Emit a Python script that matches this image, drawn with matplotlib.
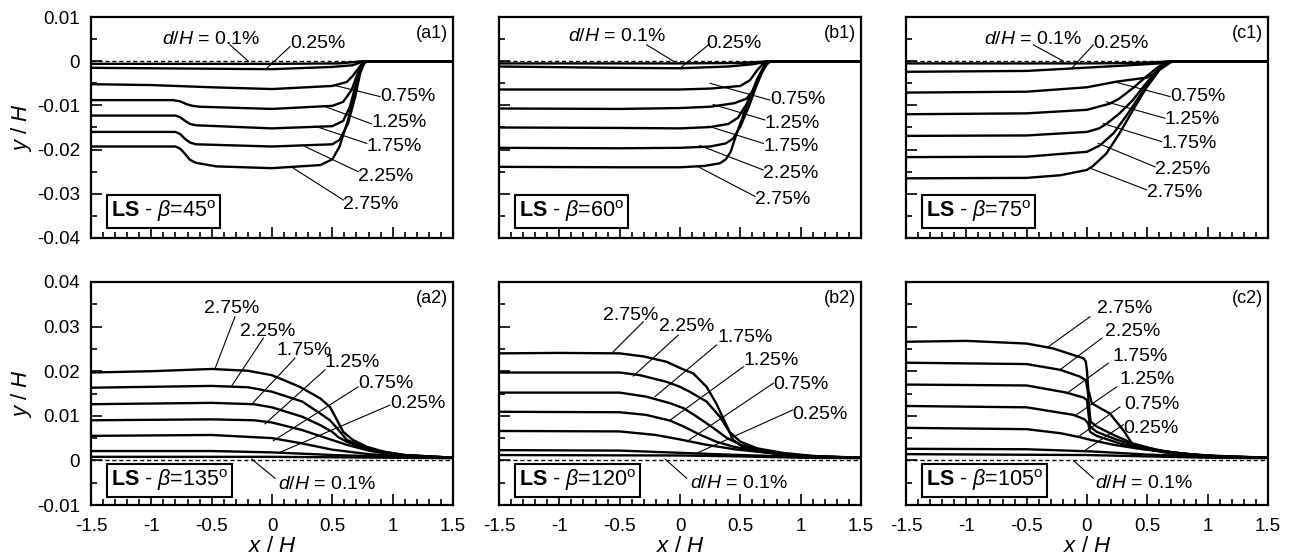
import matplotlib
matplotlib.use('Agg')
import matplotlib.pyplot as plt
from matplotlib.ticker import MultipleLocator, FuncFormatter

plt.rcParams['font.family'] = ['Liberation Sans', 'DejaVu Sans']
plt.rcParams['mathtext.fontset'] = 'custom'
plt.rcParams['mathtext.rm'] = 'Liberation Sans'
plt.rcParams['mathtext.it'] = 'Liberation Sans:italic'
plt.rcParams['mathtext.bf'] = 'Liberation Sans:bold'
plt.rcParams['axes.unicode_minus'] = False

# ---- data: label -> (x/H, y/H) ----
a1_curves = {
    "0.1%": ([-1.5, 0.0, 0.55, 0.68, 0.75, 1.5], [-0.0006, -0.0006, -0.0005, -0.0002, 0, 0]),
    "0.25%": ([-1.5, -0.5, 0.0, 0.5, 0.67, 0.72, 0.75, 1.5], [-0.0015, -0.0017, -0.0018, -0.0013, -0.0009, -0.0004, 0, 0]),
    "0.75%": ([-1.5, -1.0, -0.5, 0.0, 0.5, 0.62, 0.67, 0.72, 0.76, 1.5],
              [-0.0052, -0.0054, -0.0059, -0.0063, -0.0056, -0.0047, -0.0033, -0.0015, 0, 0]),
    "1.25%": ([-1.5, -0.82, -0.76, -0.71, -0.66, -0.6, 0.0, 0.5, 0.59, 0.66, 0.70, 0.74, 0.77, 1.5],
              [-0.0088, -0.0088, -0.0091, -0.0097, -0.0101, -0.0103, -0.0108, -0.0101, -0.0092, -0.0065, -0.0035, -0.0008, 0, 0]),
    "1.75%": ([-1.5, -0.8, -0.76, -0.72, -0.68, -0.63, 0.0, 0.5, 0.59, 0.645, 0.69, 0.73, 0.77, 1.5],
              [-0.0123, -0.0123, -0.0127, -0.0135, -0.0142, -0.0145, -0.0152, -0.0147, -0.0135, -0.0103, -0.0058, -0.0016, 0, 0]),
    "2.25%": ([-1.5, -0.8, -0.76, -0.72, -0.68, -0.63, 0.0, 0.5, 0.56, 0.63, 0.69, 0.73, 0.77, 1.5],
              [-0.0160, -0.0160, -0.0165, -0.0176, -0.0184, -0.0188, -0.0193, -0.0188, -0.0178, -0.0141, -0.0080, -0.0028, 0, 0]),
    "2.75%": ([-1.5, -0.8, -0.76, -0.72, -0.68, -0.63, -0.46, 0.0, 0.4, 0.5, 0.56, 0.63, 0.69, 0.74, 0.785, 1.5],
              [-0.0193, -0.0193, -0.0198, -0.0210, -0.0223, -0.0230, -0.0238, -0.0242, -0.0235, -0.0222, -0.0193, -0.0133, -0.0065, -0.0012, 0, 0]),
}
b1_curves = {
    "0.1%": ([-1.5, 0.0, 0.5, 0.65, 0.72, 1.5], [-0.0005, -0.0005, -0.0004, -0.0002, 0, 0]),
    "0.25%": ([-1.5, -0.5, 0.0, 0.4, 0.6, 0.68, 0.73, 1.5], [-0.0012, -0.0015, -0.0016, -0.0012, -0.0007, -0.0003, 0, 0]),
    "0.75%": ([-1.5, -0.5, 0.0, 0.25, 0.5, 0.58, 0.635, 0.68, 0.72, 1.5],
              [-0.0064, -0.0064, -0.0064, -0.0062, -0.0056, -0.0043, -0.0022, -0.0008, 0, 0]),
    "1.25%": ([-1.5, -0.5, 0.0, 0.25, 0.45, 0.55, 0.62, 0.66, 0.71, 0.74, 1.5],
              [-0.0107, -0.0108, -0.0106, -0.0103, -0.0095, -0.0085, -0.0062, -0.0035, -0.0009, 0, 0]),
    "1.75%": ([-1.5, -0.5, 0.0, 0.25, 0.4, 0.48, 0.55, 0.62, 0.67, 0.71, 0.745, 1.5],
              [-0.0150, -0.0151, -0.0152, -0.0149, -0.0142, -0.0128, -0.0098, -0.0058, -0.0026, -0.0007, 0, 0]),
    "2.25%": ([-1.5, -0.5, 0.0, 0.25, 0.38, 0.44, 0.5, 0.57, 0.63, 0.68, 0.72, 0.75, 1.5],
              [-0.0196, -0.0197, -0.0196, -0.0193, -0.0186, -0.0175, -0.0148, -0.0103, -0.0058, -0.0025, -0.0007, 0, 0]),
    "2.75%": ([-1.5, -0.5, 0.0, 0.2, 0.33, 0.38, 0.42, 0.47, 0.55, 0.635, 0.70, 0.75, 1.5],
              [-0.0239, -0.0240, -0.0240, -0.0237, -0.0231, -0.0222, -0.0205, -0.0163, -0.0103, -0.0043, -0.0009, 0, 0]),
}
c1_curves = {
    "0.1%": ([-1.5, 0.0, 0.4, 0.6, 0.68, 1.5], [-0.0005, -0.0005, -0.0004, -0.0002, 0, 0]),
    "0.25%": ([-1.5, -0.5, -0.1, 0.3, 0.6, 0.69, 1.5], [-0.0024, -0.0022, -0.0016, -0.0010, -0.0005, 0, 0]),
    "0.75%": ([-1.5, -0.5, 0.0, 0.25, 0.5, 0.56, 0.62, 0.68, 1.5],
              [-0.0071, -0.0069, -0.0059, -0.0046, -0.0037, -0.0028, -0.0012, 0, 0]),
    "1.25%": ([-1.5, -0.5, 0.0, 0.19, 0.27, 0.38, 0.49, 0.6, 0.68, 1.5],
              [-0.0120, -0.0118, -0.0110, -0.0096, -0.0084, -0.0061, -0.0035, -0.0011, 0, 0]),
    "1.75%": ([-1.5, -0.5, 0.0, 0.1, 0.16, 0.27, 0.38, 0.49, 0.6, 0.68, 1.5],
              [-0.0169, -0.0168, -0.0160, -0.0152, -0.0142, -0.0118, -0.0088, -0.0050, -0.0016, 0, 0]),
    "2.25%": ([-1.5, -0.5, 0.0, 0.11, 0.22, 0.33, 0.44, 0.55, 0.63, 0.69, 1.5],
              [-0.0217, -0.0216, -0.0205, -0.0190, -0.0163, -0.0122, -0.0077, -0.0031, -0.0009, 0, 0]),
    "2.75%": ([-1.5, -0.5, -0.22, 0.0, 0.05, 0.16, 0.27, 0.38, 0.49, 0.6, 0.69, 0.72, 1.5],
              [-0.0265, -0.0264, -0.0258, -0.0246, -0.0237, -0.0209, -0.0163, -0.0111, -0.0061, -0.0020, -0.0003, 0, 0]),
}
a2_curves = {
    "0.1%": ([-1.5, 0.0, 0.5, 1.0, 1.5], [0.0008, 0.0008, 0.0007, 0.0006, 0.0005]),
    "0.25%": ([-1.5, -0.5, 0.0, 0.5, 1.0, 1.5], [0.0021, 0.0021, 0.0018, 0.0012, 0.0008, 0.0006]),
    "0.75%": ([-1.5, -0.5, 0.0, 0.25, 0.5, 0.8, 1.1, 1.5], [0.0055, 0.0057, 0.0050, 0.0038, 0.0024, 0.0014, 0.0009, 0.0006]),
    "1.25%": ([-1.5, -0.5, -0.15, 0.0, 0.25, 0.45, 0.62, 0.8, 1.0, 1.5],
              [0.0090, 0.0092, 0.0090, 0.0085, 0.0068, 0.0050, 0.0035, 0.0022, 0.0013, 0.0006]),
    "1.75%": ([-1.5, -0.5, -0.15, 0.0, 0.25, 0.4, 0.5, 0.55, 0.62, 0.75, 0.9, 1.1, 1.5],
              [0.0126, 0.0129, 0.0126, 0.0119, 0.0098, 0.0079, 0.0064, 0.0052, 0.0042, 0.0028, 0.0018, 0.0011, 0.0006]),
    "2.25%": ([-1.5, -0.5, -0.2, 0.0, 0.25, 0.4, 0.48, 0.54, 0.62, 0.75, 0.9, 1.1, 1.5],
              [0.0163, 0.0167, 0.0164, 0.0154, 0.0132, 0.0105, 0.0090, 0.0072, 0.0046, 0.0031, 0.0020, 0.0012, 0.0006]),
    "2.75%": ([-1.5, -1.0, -0.5, -0.2, 0.0, 0.23, 0.4, 0.48, 0.54, 0.59, 0.67, 0.78, 0.92, 1.1, 1.5],
              [0.0197, 0.0200, 0.0205, 0.0201, 0.0191, 0.0165, 0.0139, 0.0120, 0.0090, 0.0064, 0.0046, 0.0031, 0.0020, 0.0012, 0.0006]),
}
b2_curves = {
    "0.1%": ([-1.5, 0.0, 0.5, 1.0, 1.5], [0.0012, 0.0011, 0.0009, 0.0006, 0.0005]),
    "0.25%": ([-1.5, -0.5, 0.0, 0.5, 1.0, 1.5], [0.0023, 0.0022, 0.0017, 0.0012, 0.0008, 0.0006]),
    "0.75%": ([-1.5, -0.5, -0.2, 0.0, 0.22, 0.45, 0.8, 1.1, 1.5],
              [0.0066, 0.0065, 0.0057, 0.0047, 0.0035, 0.0025, 0.0015, 0.0009, 0.0006]),
    "1.25%": ([-1.5, -0.5, -0.28, -0.08, 0.03, 0.17, 0.3, 0.44, 0.65, 0.9, 1.2, 1.5],
              [0.0109, 0.0108, 0.0102, 0.0089, 0.0076, 0.0057, 0.0042, 0.0031, 0.0020, 0.0012, 0.0008, 0.0006]),
    "1.75%": ([-1.5, -0.5, -0.28, -0.08, 0.03, 0.14, 0.28, 0.39, 0.5, 0.65, 0.9, 1.2, 1.5],
              [0.0152, 0.0152, 0.0143, 0.0128, 0.0117, 0.0098, 0.0072, 0.0050, 0.0035, 0.0024, 0.0013, 0.0008, 0.0006]),
    "2.25%": ([-1.5, -0.5, -0.33, -0.11, 0.0, 0.08, 0.22, 0.33, 0.41, 0.5, 0.64, 0.85, 1.1, 1.5],
              [0.0197, 0.0197, 0.0191, 0.0176, 0.0165, 0.0154, 0.0132, 0.0098, 0.0064, 0.0042, 0.0027, 0.0017, 0.0010, 0.0006]),
    "2.75%": ([-1.5, -1.0, -0.5, -0.3, -0.11, 0.01, 0.11, 0.22, 0.3, 0.39, 0.44, 0.52, 0.66, 0.85, 1.1, 1.5],
              [0.0240, 0.0241, 0.0240, 0.0233, 0.0221, 0.0206, 0.0195, 0.0165, 0.0128, 0.0076, 0.0046, 0.0031, 0.0020, 0.0014, 0.0009, 0.0006]),
}
c2_curves = {
    "0.1%": ([-1.5, 0.0, 0.5, 1.0, 1.5], [0.0014, 0.0012, 0.0009, 0.0006, 0.0005]),
    "0.25%": ([-1.5, -0.5, 0.05, 0.5, 1.0, 1.5], [0.0026, 0.0025, 0.0020, 0.0013, 0.0008, 0.0006]),
    "0.75%": ([-1.5, -0.5, -0.22, -0.06, 0.03, 0.22, 0.46, 0.8, 1.1, 1.5],
              [0.0073, 0.0070, 0.0061, 0.0052, 0.0046, 0.0035, 0.0025, 0.0015, 0.0009, 0.0006]),
    "1.25%": ([-1.5, -0.5, -0.11, -0.02, 0.01, 0.025, 0.08, 0.27, 0.5, 0.8, 1.1, 1.5],
              [0.0122, 0.0119, 0.0102, 0.0092, 0.0083, 0.0064, 0.0055, 0.0038, 0.0025, 0.0015, 0.0009, 0.0006]),
    "1.75%": ([-1.5, -0.5, -0.17, -0.03, 0.0, 0.015, 0.025, 0.08, 0.25, 0.44, 0.7, 1.0, 1.5],
              [0.0170, 0.0168, 0.0152, 0.0141, 0.0135, 0.0098, 0.0076, 0.0064, 0.0046, 0.0031, 0.0018, 0.0010, 0.0006]),
    "2.25%": ([-1.5, -0.5, -0.22, -0.06, -0.01, 0.005, 0.02, 0.03, 0.08, 0.22, 0.38, 0.6, 0.9, 1.5],
              [0.0219, 0.0216, 0.0203, 0.0188, 0.0180, 0.0158, 0.0113, 0.0087, 0.0076, 0.0057, 0.0038, 0.0022, 0.0012, 0.0006]),
    "2.75%": ([-1.5, -1.0, -0.5, -0.28, -0.11, -0.03, -0.01, 0.0, 0.01, 0.04, 0.11, 0.19, 0.3, 0.38, 0.5, 0.7, 1.0, 1.5],
              [0.0266, 0.0268, 0.0262, 0.0251, 0.0236, 0.0229, 0.0222, 0.0200, 0.0160, 0.0128, 0.0117, 0.0105, 0.0068, 0.0035, 0.0025, 0.0015, 0.0009, 0.0006]),
}

D_LABEL = r"$d$/$H$ = 0.1%"

# label placement: (text, text x, text y, leader from x, y, leader to x, y)
a1_notes = [
    (D_LABEL, -0.914, 0.0049, -0.348, 0.0037, -0.196, 0.0),
    ("0.25%", 0.149, 0.0040, 0.149, 0.0033, -0.044, -0.0016),
    ("0.75%", 0.895, -0.0079, 0.895, -0.0080, 0.508, -0.0054),
    ("1.25%", 0.826, -0.0139, 0.826, -0.0142, 0.425, -0.0101),
    ("1.75%", 0.785, -0.0194, 0.785, -0.0186, 0.356, -0.0147),
    ("2.25%", 0.715, -0.0260, 0.715, -0.0250, 0.273, -0.0193),
    ("2.75%", 0.591, -0.0325, 0.591, -0.0314, 0.177, -0.0242),
]
b1_notes = [
    (D_LABEL, -0.925, 0.0055, -0.276, 0.0037, -0.055, 0.0),
    ("0.25%", 0.221, 0.0040, 0.235, 0.0037, 0.0, -0.0016),
    ("0.75%", 0.746, -0.0086, 0.746, -0.0088, 0.249, -0.0050),
    ("1.25%", 0.704, -0.0141, 0.704, -0.0133, 0.276, -0.0098),
    ("1.75%", 0.690, -0.0194, 0.690, -0.0186, 0.235, -0.0147),
    ("2.25%", 0.690, -0.0254, 0.690, -0.0246, 0.166, -0.0191),
    ("2.75%", 0.622, -0.0314, 0.622, -0.0306, 0.138, -0.0237),
]
c1_notes = [
    (D_LABEL, -0.854, 0.0050, -0.445, 0.0037, -0.196, 0.0),
    ("0.25%", 0.052, 0.0040, 0.052, 0.0037, -0.127, -0.0016),
    ("0.75%", 0.688, -0.0080, 0.688, -0.0080, 0.218, -0.0046),
    ("1.25%", 0.646, -0.0133, 0.646, -0.0129, 0.163, -0.0092),
    ("1.75%", 0.619, -0.0186, 0.619, -0.0182, 0.135, -0.0141),
    ("2.25%", 0.564, -0.0246, 0.564, -0.0239, 0.094, -0.0186),
    ("2.75%", 0.494, -0.0297, 0.494, -0.0291, 0.025, -0.0242),
]
a2_notes = [
    ("2.75%", -0.564, 0.0341, -0.307, 0.0322, -0.472, 0.0206),
    ("2.25%", -0.265, 0.0290, -0.072, 0.0274, -0.334, 0.0167),
    ("1.75%", 0.039, 0.0247, 0.190, 0.0229, -0.169, 0.0126),
    ("1.25%", 0.439, 0.0220, 0.439, 0.0203, -0.058, 0.0082),
    ("0.75%", 0.715, 0.0173, 0.715, 0.0165, 0.011, 0.0044),
    ("0.25%", 0.978, 0.0127, 0.978, 0.0124, 0.066, 0.0018),
    (D_LABEL, 0.052, -0.0055, 0.025, -0.0040, -0.169, 0.0003),
]
b2_notes = [
    ("2.75%", -0.635, 0.0324, -0.304, 0.0311, -0.552, 0.0244),
    ("2.25%", -0.171, 0.0301, -0.014, 0.0281, -0.387, 0.0189),
    ("1.75%", 0.309, 0.0276, 0.304, 0.0259, -0.207, 0.0143),
    ("1.25%", 0.525, 0.0225, 0.525, 0.0210, -0.083, 0.0090),
    ("0.75%", 0.773, 0.0170, 0.773, 0.0173, 0.055, 0.0042),
    ("0.25%", 0.934, 0.0103, 0.934, 0.0113, 0.138, 0.0016),
    (D_LABEL, 0.083, -0.0052, 0.055, -0.0040, -0.124, 0.0003),
]
c2_notes = [
    ("2.75%", 0.080, 0.0341, 0.025, 0.0322, -0.320, 0.0255),
    ("2.25%", 0.149, 0.0289, 0.122, 0.0274, -0.224, 0.0203),
    ("1.75%", 0.213, 0.0234, 0.177, 0.0218, -0.169, 0.0150),
    ("1.25%", 0.273, 0.0182, 0.246, 0.0165, -0.100, 0.0100),
    ("0.75%", 0.307, 0.0126, 0.273, 0.0120, -0.072, 0.0053),
    ("0.25%", 0.301, 0.0072, 0.301, 0.0080, -0.030, 0.0020),
    (D_LABEL, 0.066, -0.0052, 0.052, -0.0040, -0.113, 0.0),
]

panels = [
    # curves, notes, tag, beta, row, col
    (a1_curves, a1_notes, "(a1)", 45, 0, 0),
    (b1_curves, b1_notes, "(b1)", 60, 0, 1),
    (c1_curves, c1_notes, "(c1)", 75, 0, 2),
    (a2_curves, a2_notes, "(a2)", 135, 1, 0),
    (b2_curves, b2_notes, "(b2)", 120, 1, 1),
    (c2_curves, c2_notes, "(c2)", 105, 1, 2),
]

W, H = 1294, 558
fig = plt.figure(figsize=(W / 100, H / 100), dpi=100)

lefts = [91, 499, 906]
rows = [(17, 238), (282, 505)]
ylims = [(-0.04, 0.01), (-0.01, 0.04)]


def fmt(v, _):
    if abs(v) < 1e-9:
        return "0"
    return f"{round(v, 4):g}"


for curves, notes, tag, beta, r, c in panels:
    top, bot = rows[r]
    ax = fig.add_axes([lefts[c] / W, 1 - bot / H, 362 / W, (bot - top) / H])
    ax.set_xlim(-1.5, 1.5)
    ax.set_ylim(*ylims[r])

    ax.axhline(0, color='black', lw=1.0, ls=(0, (3, 2)))
    for lab, (xs, ys) in curves.items():
        ax.plot(xs, ys, color='black', lw=1.7, solid_joinstyle='round')

    for txt, tx, ty, x0, y0, x1, y1 in notes:
        ax.plot([x0, x1], [y0, y1], color='black', lw=0.8)
        ax.text(tx, ty, txt, ha='left', va='center', fontsize=14)

    ax.text(0.985, 0.925, tag, transform=ax.transAxes, ha='right', va='center', fontsize=13)
    ax.text(0.055, 0.12 if r == 0 else 0.11,
            r"$\mathbf{LS}$ - $\beta$=" + f"{beta}" + r"$^{\mathrm{o}}$",
            transform=ax.transAxes, ha='left', va='center', fontsize=15.5,
            bbox=dict(boxstyle='square,pad=0.18', fc='white', ec='black', lw=1.5))

    ax.xaxis.set_major_locator(MultipleLocator(0.5))
    ax.xaxis.set_minor_locator(MultipleLocator(0.1))
    ax.yaxis.set_major_locator(MultipleLocator(0.01))
    ax.yaxis.set_minor_locator(MultipleLocator(0.005))
    ax.xaxis.set_major_formatter(FuncFormatter(fmt))
    ax.yaxis.set_major_formatter(FuncFormatter(fmt))
    ax.tick_params(which='both', direction='in', top=False, right=False, labelsize=13.5)
    ax.tick_params(axis='x', pad=9.5)
    ax.tick_params(axis='y', pad=8)
    ax.tick_params(which='major', length=8, width=1.2)
    ax.tick_params(which='minor', length=4, width=1.2)
    ax.tick_params(labelbottom=(r == 1), labelleft=(c == 0))
    for s in ax.spines.values():
        s.set_linewidth(1.6)

    if c == 0:
        fig.text(22 / W, 1 - (top + bot) / 2 / H, r"$y$ / $H$", rotation=90,
                 ha='center', va='center', fontsize=16)
    if r == 1:
        fig.text((lefts[c] + 181) / W, 1 - 547 / H, r"$x$ / $H$",
                 ha='center', va='center', fontsize=16)

plt.savefig('out.png', dpi=100)
